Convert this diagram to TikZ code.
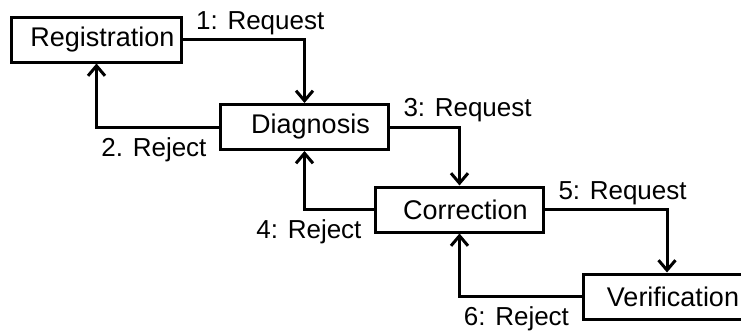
\documentclass[tikz,border=0pt]{standalone}
\usepackage{fontspec}
\setmainfont{Liberation Sans}
\usepackage{tikz}
\usetikzlibrary{arrows.meta}
\tikzset{>={Straight Barb[length=5pt,width=8.5pt]}}
\tikzstyle{stage}=[
  draw,
  line width=1.5pt,
  minimum width=84pt,
  minimum height=22.5pt,
  font=\fontsize{13.5pt}{16pt}\selectfont,
  execute at begin node={\hspace*{6pt}}
]
\tikzstyle{flow}=[->,line width=1.5pt]
\tikzstyle{req}=[anchor=base west,inner sep=0pt,xshift=6pt,yshift=5pt]
\tikzstyle{rej}=[anchor=base east,inner sep=0pt,xshift=-5.5pt,yshift=-14.5pt]

\begin{document}
\begin{tikzpicture}[x=0.5pt,y=-0.5pt,every node/.style={font=\fontsize{13pt}{15.5pt}\selectfont}]
    \clip (0,0) rectangle (741,332);

    \node[stage] (reg)  at (96.5,39.5) {Registration};
    \node[stage] (diag) at (304.5,127) {Diagnosis};
    \node[stage] (corr) at (459.5,209.5) {Correction};
    \node[stage] (veri) at (667,296.5) {Verification}; % runs past the right edge

    \draw[flow] (reg.east)  node[req] (req1) {1: Request} -| (diag.north);
    \draw[flow] (diag.west) node[rej] (rej2) {2. Reject}  -| (reg.south);
    \draw[flow] (diag.east) node[req] (req3) {3: Request} -| (corr.north);
    \draw[flow] (corr.west) node[rej] (rej4) {4: Reject}  -| (diag.south);
    \draw[flow] (corr.east) node[req] (req5) {5: Request} -| (veri.north);
    \draw[flow] (veri.west) node[rej] (rej6) {6: Reject}  -| (corr.south);
\end{tikzpicture}
\end{document}
